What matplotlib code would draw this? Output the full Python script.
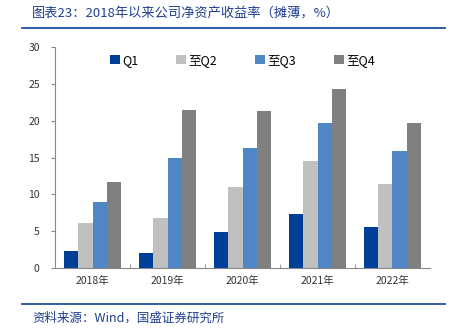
import numpy as np
import matplotlib.pyplot as plt
from matplotlib.lines import Line2D

plt.rcParams['font.family'] = ['Noto Sans CJK SC', 'DejaVu Sans']

years = ["2018年", "2019年", "2020年", "2021年", "2022年"]
series_names = ["Q1", "至Q2", "至Q3", "至Q4"]
q1 = [2.3, 2.0, 4.9, 7.3, 5.5]
q2 = [6.1, 6.8, 11.0, 14.5, 11.4]
q3 = [8.9, 15.0, 16.3, 19.7, 15.9]
q4 = [11.7, 21.4, 21.3, 24.3, 19.7]
colors = ["#003f98", "#c0c0c0", "#4f86c6", "#808080"]

fig = plt.figure(figsize=(4.51, 3.35), dpi=100)
ax = fig.add_axes([55 / 451, (335 - 268) / 335, 375 / 451, 221 / 335])

x = np.arange(len(years))
width = 0.19
for i, (vals, name) in enumerate(zip([q1, q2, q3, q4], series_names)):
    ax.bar(x + (i - 1.5) * width, vals, width, color=colors[i], label=name)

ax.set_xlim(-0.5, len(years) - 0.5)
ax.set_ylim(0, 30)
ax.set_yticks(range(0, 31, 5))
ax.set_xticks(x)
ax.set_xticklabels(years, fontsize=7.5, color="#333333")
ax.set_xticks(np.arange(0.5, len(years) - 0.5, 1), minor=True)
ax.tick_params(axis="x", which="major", length=0, pad=6)
ax.tick_params(axis="x", which="minor", length=3, direction="in", color="#888888")
ax.tick_params(axis="y", length=3, direction="out", color="#888888", labelsize=7.5, labelcolor="#333333", pad=8)
for s in ["top", "right"]:
    ax.spines[s].set_visible(False)
for s in ["left", "bottom"]:
    ax.spines[s].set_color("#888888")
    ax.spines[s].set_linewidth(0.8)

ax.legend(loc="upper center", bbox_to_anchor=(0.5, 1.02), ncol=4, frameon=False,
          fontsize=9, handlelength=0.8, handleheight=0.8, handletextpad=0.2,
          columnspacing=3.0)

# title and source with blue rules
blue = "#1f3f8f"
fig.text(32 / 451, 1 - 14 / 335, "图表23：2018年以来公司净资产收益率（摊薄，%）",
         fontsize=9.5, color=blue, va="center", ha="left")
fig.add_artist(Line2D([22 / 451, 445 / 451], [1 - 28 / 335, 1 - 28 / 335], color="#1f4fa0", lw=1.3))
fig.add_artist(Line2D([22 / 451, 445 / 451], [1 - 304 / 335, 1 - 304 / 335], color="#1f4fa0", lw=1.3))
fig.text(32 / 451, 1 - 318 / 335, "资料来源：Wind，国盛证券研究所",
         fontsize=9, color=blue, va="center", ha="left")

fig.savefig("out.png", dpi=100)
